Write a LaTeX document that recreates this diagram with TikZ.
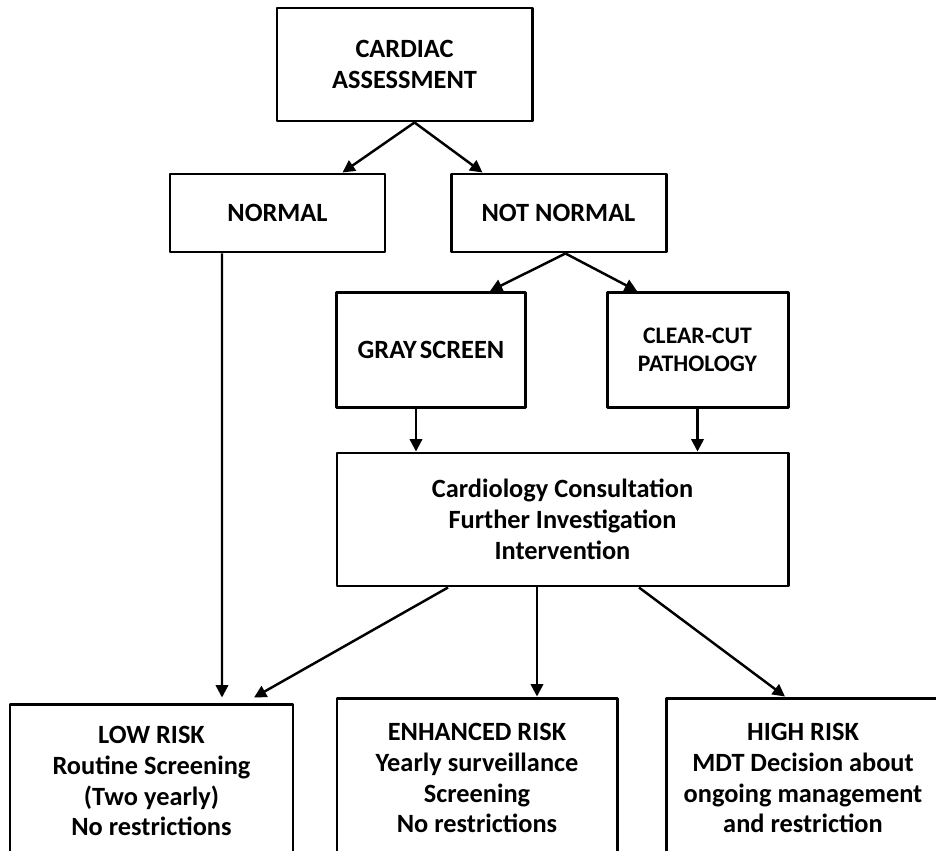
\documentclass[tikz,border=0pt]{standalone}
\usepackage{fontspec}
\setmainfont{Carlito}
\usetikzlibrary{arrows.meta,calc}
\begin{document}
\begin{tikzpicture}[x=0.02cm, y=-0.02cm, line join=round,
	font=\bfseries\fontsize{15}{17.6}\selectfont,
	box/.style={draw, line width=1.7pt, align=center, inner sep=0pt},
	arr/.style={line width=1.4pt, -{Triangle[length=7pt,width=7pt]}}]
	\clip (0,0) rectangle (936,851);
	% top levels
	\node[box, minimum width=255*0.02cm, minimum height=113*0.02cm] (cardiac) at (404.5,64.5) {CARDIAC\\ASSESSMENT};
	\node[box, minimum width=215*0.02cm, minimum height=78*0.02cm] (normal) at (277.5,213) {NORMAL};
	\node[box, minimum width=215*0.02cm, minimum height=78*0.02cm] (notnormal) at (558.5,213) {NOT NORMAL};
	\node[box, minimum width=189*0.02cm, minimum height=115*0.02cm] (gray) at (431,350) {GRAY\hskip0.12em SCREEN};
	\node[box, minimum width=181*0.02cm, minimum height=115*0.02cm, font=\bfseries\fontsize{13.5}{16}\selectfont] (clear) at (697.5,350) {CLEAR-CUT\\PATHOLOGY};
	\node[box, minimum width=451*0.02cm, minimum height=133*0.02cm] (consult) at (562.5,519.5) {Cardiology Consultation\\Further Investigation\\Intervention};
	% risk boxes
	\node[box, minimum width=283*0.02cm, minimum height=154*0.02cm] (low) at (151.5,781) {LOW RISK\\Routine Screening\\(Two yearly)\\No restrictions};
	\node[box, minimum width=280*0.02cm, minimum height=160*0.02cm] (enhanced) at (477,778) {ENHANCED RISK\\Yearly surveillance\\Screening\\No restrictions};
	\node[box, minimum width=274*0.02cm, minimum height=160*0.02cm] (high) at (803,778) {HIGH RISK\\MDT Decision about\\ongoing management\\and restriction};
	% connectors
	\draw[arr] ($(cardiac.south)+(10,0)$) -- ($(normal.north)+(65,0)$);
	\draw[arr] ($(cardiac.south)+(10,0)$) -- ($(notnormal.north)+(-76,0)$);
	\draw[arr] ($(notnormal.south)+(7,0)$) -- ($(gray.north)+(59,0)$);
	\draw[arr] ($(notnormal.south)+(7,0)$) -- ($(clear.north)+(-60.5,0)$);
	\draw[arr] ($(gray.south)+(-15,0)$) -- ($(consult.north)+(-146.5,0)$);
	\draw[arr] (clear.south) -- ($(consult.north)+(135,0)$);
	\draw[arr] ($(normal.south)+(-55.5,0)$) -- ($(low.north)+(70.5,-5)$);
	\draw[arr] ($(consult.south)+(-114.5,0)$) -- ($(low.north)+(102.5,-5)$);
	\draw[arr] ($(consult.south)+(-25.5,0)$) -- ($(enhanced.north)+(60,0)$);
	\draw[arr] ($(consult.south)+(76.5,0)$) -- ($(high.north)+(-18,0)$);
\end{tikzpicture}
\end{document}
